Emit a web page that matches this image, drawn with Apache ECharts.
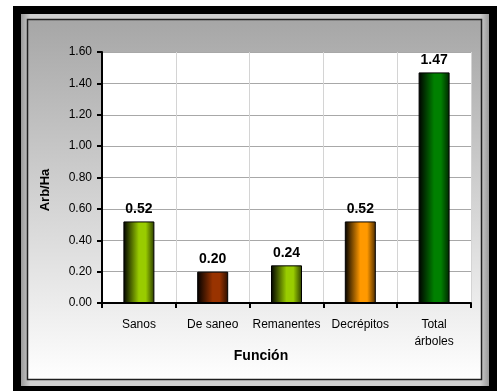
<!DOCTYPE html>
<html><head><meta charset="utf-8">
<script src="https://cdn.jsdelivr.net/npm/echarts@6/dist/echarts.min.js"></script>
<style>html,body{margin:0;padding:0;background:#fff}#c{width:497px;height:391px}</style>
</head><body><div id="c"></div>
<script>
const categories = ['Sanos', 'De saneo', 'Remanentes', 'Decrépitos', 'Total\nárboles'];
const values = [0.52, 0.20, 0.24, 0.52, 1.47];
const yTicks = ['0.00','0.20','0.40','0.60','0.80','1.00','1.20','1.40','1.60'];
const xTitle = 'Función';
const yTitle = 'Arb/Ha';

const barColors = ['#99CC00', '#993300', '#99CC00', '#FF9900', '#008000'];
const darkColors = ['#2a3a00', '#2a0e00', '#2a3a00', '#4a2a00', '#002400'];
const FONT = 'Arial, "Liberation Sans", sans-serif';

function grad(i) {
  return new echarts.graphic.LinearGradient(0, 0, 1, 0, [
    {offset: 0, color: '#000'},
    {offset: 0.5, color: barColors[i]},
    {offset: 0.72, color: barColors[i]},
    {offset: 1, color: darkColors[i]}
  ]);
}

const chart = echarts.init(document.getElementById('c'), null, {renderer: 'canvas'});
chart.setOption({
  animation: false,
  backgroundColor: '#fff',
  graphic: [
    {type: 'rect', z: -10, shape: {x: 13, y: 6, width: 500, height: 400}, style: {fill: '#000'}},
    {type: 'rect', z: -9, shape: {x: 21, y: 14, width: 468, height: 372},
      style: {fill: new echarts.graphic.LinearGradient(0,0,1,0,[{offset:0,color:'#9a9a9a'},{offset:0.02,color:'#d0d0d0'},{offset:0.98,color:'#d0d0d0'},{offset:1,color:'#9a9a9a'}])}},
    {type: 'rect', z: -8, shape: {x: 27.5, y: 19.5, width: 454, height: 360},
      style: {stroke: '#202020', lineWidth: 1.5,
        fill: new echarts.graphic.LinearGradient(0, 0, 0, 1, [{offset: 0, color: '#a6a6a6'}, {offset: 1, color: '#ffffff'}])}},
    {type: 'text', z: 100, x: 261, y: 356,
      style: {text: xTitle, font: 'bold 14px ' + FONT, fill: '#000', align: 'center', verticalAlign: 'middle'}},
    {type: 'text', z: 100, x: 45, y: 190, rotation: Math.PI / 2,
      style: {text: yTitle, font: 'bold 13px ' + FONT, fill: '#000', align: 'center', verticalAlign: 'middle'}}
  ],
  grid: {left: 102, top: 52, width: 369, height: 251, show: true, backgroundColor: '#fff', borderWidth: 0},
  xAxis: {
    type: 'category', data: categories, boundaryGap: true,
    axisLine: {lineStyle: {color: '#000', width: 2}},
    axisTick: {show: true, length: 5, lineStyle: {color: '#000', width: 2}},
    splitLine: {show: true, lineStyle: {color: '#d4d4d4', width: 1}},
    axisLabel: {color: '#000', fontSize: 12, fontFamily: FONT, margin: 13, lineHeight: 17, interval: 0}
  },
  yAxis: {
    type: 'value', min: 0, max: 1.6, interval: 0.2,
    axisLine: {show: true, lineStyle: {color: '#000', width: 2}},
    axisTick: {show: true, length: 5, lineStyle: {color: '#000', width: 2}},
    splitLine: {show: true, lineStyle: {color: '#a8a8a8', width: 1}},
    axisLabel: {color: '#000', fontSize: 12, fontFamily: FONT, margin: 10,
      formatter: v => yTicks[Math.round(v / 0.2)]}
  },
  series: [{
    type: 'bar', barWidth: 31,
    data: values.map((v, i) => ({value: v, itemStyle: {color: grad(i)}})),
    itemStyle: {borderColor: '#000', borderWidth: 1},
    label: {show: true, position: 'top', distance: 5, color: '#000', fontWeight: 'bold', fontSize: 14, fontFamily: FONT,
      formatter: p => p.value.toFixed(2)}
  }]
});
</script></body></html>
